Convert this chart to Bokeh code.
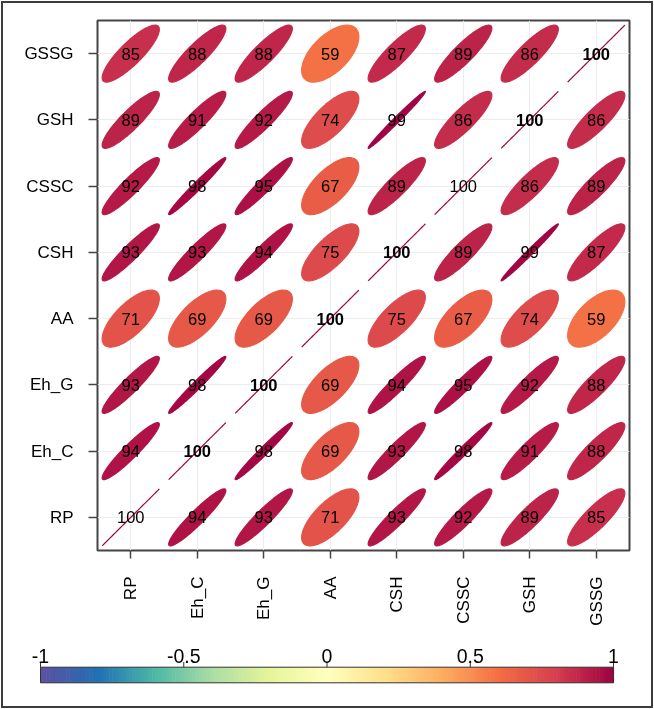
import numpy as np
from bokeh.plotting import figure
from bokeh.models import Range1d, FixedTicker, ColumnDataSource
from bokeh.embed import file_html
from bokeh.resources import INLINE

# ---------------- data ----------------
labels = ["RP", "Eh_C", "Eh_G", "AA", "CSH", "CSSC", "GSH", "GSSG"]
# each row: correlation (x100) with columns RP .. GSSG
row_RP   = [100, 94, 93, 71, 93, 92, 89, 85]
row_Eh_C = [94, 100, 98, 69, 93, 98, 91, 88]
row_Eh_G = [93, 98, 100, 69, 94, 95, 92, 88]
row_AA   = [71, 69, 69, 100, 75, 67, 74, 59]
row_CSH  = [93, 93, 94, 75, 100, 89, 99, 87]
row_CSSC = [92, 98, 95, 67, 89, 100, 86, 89]
row_GSH  = [89, 91, 92, 74, 99, 86, 100, 86]
row_GSSG = [85, 88, 88, 59, 87, 89, 86, 100]
plain_diag = ["RP", "CSSC"]          # diagonal labels printed non-bold
cbar_ticks = [-1, -0.5, 0, 0.5, 1]
cbar_labels = ["-1", "-0.5", "0", "0.5", "1"]

rows = [row_RP, row_Eh_C, row_Eh_G, row_AA, row_CSH, row_CSSC, row_GSH, row_GSSG]

FONT = "Liberation Sans"
stops = ["#5E4FA2", "#2070B4", "#4DB8A6", "#ABDDA4", "#E6F598", "#FFFFBF",
         "#FEE08B", "#FDAE61", "#F46D43", "#D53E4F", "#9E0142"]
stop_pos = np.linspace(-1, 1, len(stops))
stop_rgb = np.array([[int(s[i:i + 2], 16) for i in (1, 3, 5)] for s in stops], float)


def col_of(v):
    r = np.interp(v, stop_pos, stop_rgb[:, 0])
    g = np.interp(v, stop_pos, stop_rgb[:, 1])
    b = np.interp(v, stop_pos, stop_rgb[:, 2])
    return "#%02x%02x%02x" % (int(round(r)), int(round(g)), int(round(b)))


# ---------------- main matrix ----------------
n = len(labels)
S = 0.43
ang = np.linspace(0, 2 * np.pi, 120)
xs, ys, cols, tx, ty, tt, tf = [], [], [], [], [], [], []
for j, row in enumerate(rows):          # j: row index from bottom
    for i, v in enumerate(row):         # i: column index from left
        r = min(max(v / 100.0, -1), 1)
        d = np.arccos(r)
        cx, cy = i + 1, j + 1
        xs.append(list(cx + S * np.cos(ang + d / 2)))
        ys.append(list(cy + S * np.cos(ang - d / 2)))
        cols.append(col_of(r))
        tx.append(cx)
        ty.append(cy)
        tt.append(str(v))
        diag = (i == j)
        tf.append("bold" if diag and labels[i] not in plain_diag else "normal")

W = 648
H_MAIN = 637
H_BAR = 66
BC = "#3c3c3c"

p = figure(width=W, height=H_MAIN, x_range=Range1d(0.5, n + 0.5), y_range=Range1d(0.5, n + 0.5),
           output_backend="svg", toolbar_location=None,
           min_border_left=94, min_border_right=22, min_border_top=17, min_border_bottom=90,
           styles={"position": "fixed", "left": "3px", "top": "3px",
                   "box-shadow": f"-2px 0 0 0 {BC}, 2px 0 0 0 {BC}, 0 -2px 0 0 {BC}, "
                                 f"-2px -2px 0 0 {BC}, 2px -2px 0 0 {BC}"})
p.background_fill_color = "white"
p.outline_line_color = "#454545"
p.outline_line_width = 2

ticks = list(range(1, n + 1))
for ax in (p.xaxis, p.yaxis):
    ax.ticker = FixedTicker(ticks=ticks)
    ax.major_label_overrides = {k: lab for k, lab in zip(ticks, labels)}
    ax.axis_line_color = None
    ax.major_tick_line_color = "#454545"
    ax.major_tick_line_width = 1.5
    ax.major_tick_in = 0
    ax.minor_tick_line_color = None
    ax.major_label_text_font = FONT
    ax.major_label_text_font_size = "17px"
    ax.major_label_text_color = "black"
p.yaxis.major_tick_out = 9
p.yaxis.major_label_standoff = 15
p.xaxis.major_tick_out = 8
p.xaxis.major_label_standoff = 18
p.xaxis.major_label_orientation = np.pi / 2
p.grid.grid_line_color = "#EDEDED"
p.grid.grid_line_width = 1

src = ColumnDataSource(dict(xs=xs, ys=ys, c=cols))
p.patches("xs", "ys", source=src, fill_color="c", line_color="c", line_width=1.2)
tsrc = ColumnDataSource(dict(x=tx, y=ty, t=tt, f=tf))
p.text("x", "y", text="t", source=tsrc, text_align="center", text_baseline="middle",
       text_font_size="16.5px", text_font_style="f", text_color="black",
       text_font={"value": FONT})

# ---------------- colour bar ----------------
BAR_L, BAR_R = 40 - 3, 613 - 3      # pixel positions inside the figure
x0 = -1 + (0 - BAR_L) * 2 / (BAR_R - BAR_L)
x1 = -1 + (W - BAR_L) * 2 / (BAR_R - BAR_L)
pc = figure(width=W, height=H_BAR, x_range=Range1d(x0, x1), y_range=Range1d(H_BAR, 0),
            output_backend="svg", toolbar_location=None, min_border=0,
            min_border_left=0, min_border_right=0, min_border_top=0, min_border_bottom=0,
            styles={"position": "fixed", "left": "3px", "top": "%dpx" % (3 + H_MAIN),
                    "box-shadow": f"-2px 0 0 0 {BC}, 2px 0 0 0 {BC}, 0 2px 0 0 {BC}, "
                                  f"-2px 2px 0 0 {BC}, 2px 2px 0 0 {BC}"})
pc.axis.visible = False
pc.grid.grid_line_color = None
pc.outline_line_color = None
edges = np.linspace(-1, 1, 201)
mids = (edges[:-1] + edges[1:]) / 2
pc.quad(left=edges[:-1], right=edges[1:] + 0.002, top=26.7, bottom=42.3,
        fill_color=[col_of(m) for m in mids], line_color=None)
pc.quad(left=[-1], right=[1], top=26.7, bottom=42.3, fill_color=None,
        line_color="#333333", line_width=1)
pc.segment(x0=cbar_ticks, x1=cbar_ticks, y0=[21.5] * len(cbar_ticks), y1=[26.7] * len(cbar_ticks),
           line_color="#333333", line_width=1)
pc.text(x=cbar_ticks, y=[15] * len(cbar_ticks), text=cbar_labels, text_align="center",
        text_baseline="alphabetic", text_font_size="19.5px", text_color="black",
        text_font={"value": FONT})

open("out.html", "w").write(file_html([p, pc], INLINE))
